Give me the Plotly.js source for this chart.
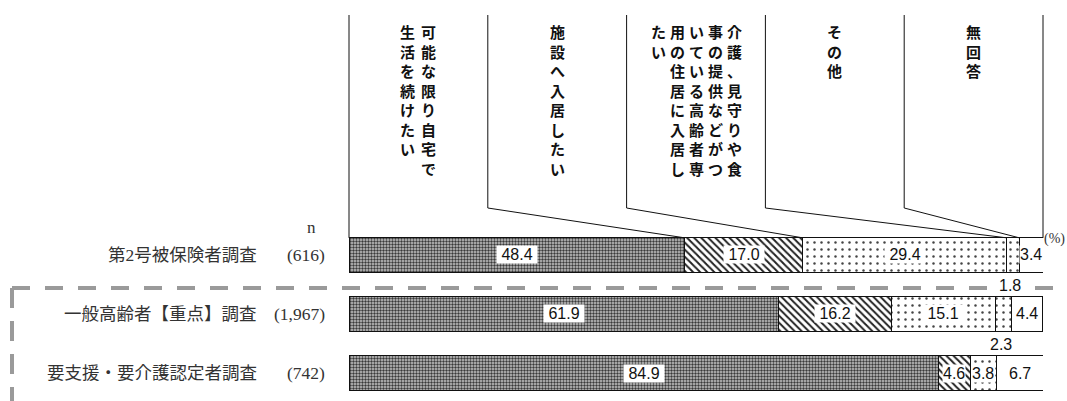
<!DOCTYPE html>
<html><head><meta charset="utf-8">
<script src="https://cdn.plot.ly/plotly-3.0.1.min.js"></script>
<style>html,body{margin:0;padding:0;background:#fff;}#chart{width:1067px;height:401px;}</style>
</head><body><div id="chart"></div>
<script>
// ---- data ----
const rowNames = ['第2号被保険者調査', '一般高齢者【重点】調査', '要支援・要介護認定者調査'];
const rowN = ['(616)', '(1,967)', '(742)'];
const seriesNames = [
  '可能な限り自宅で生活を続けたい',
  '施設へ入居したい',
  '介護、見守りや食事の提供などがついている高齢者専用の住居に入居したい',
  'その他',
  '無回答'
];
const vHome    = [48.4, 61.9, 84.9];
const vFacility= [17.0, 16.2, 4.6];
const vHousing = [29.4, 15.1, 3.8];
const vOther   = [1.8, 2.3, 0];
const vNoAns   = [3.4, 4.4, 6.7];
const seriesValues = [vHome, vFacility, vHousing, vOther, vNoAns];

// ---- geometry ----
const W = 1067, H = 401;
const M = {l: 349, r: 24, t: 225, b: 10};
const plotW = W - M.l - M.r, plotH = H - M.t - M.b;
const yRange = [2.305, -0.508];
const barWidth = 0.58;
const px2paperX = p => (p - M.l) / plotW;
const px2paperY = p => (H - M.b - p) / plotH;
const dataY2paper = d => (yRange[0] - d) / (yRange[0] - yRange[1]);

const patterns = [
  {shape: '.', fgcolor: '#3a3a3a', bgcolor: '#c8c8c8', size: 3, solidity: 0.5},
  {shape: '\\', fgcolor: '#222', bgcolor: '#fff', size: 5, solidity: 0.4},
  {shape: '.', fgcolor: '#444', bgcolor: '#fff', size: 7, solidity: 0.1},
  {shape: '.', fgcolor: '#444', bgcolor: '#fff', size: 7, solidity: 0.1},
  {shape: '', fgcolor: '#000', bgcolor: '#fff', size: 8, solidity: 0.1}
];
const baseColors = ['#8a8a8a', '#fff', '#fff', '#fff', '#fff'];

const traces = seriesValues.map((vals, i) => ({
  type: 'bar', orientation: 'h', name: seriesNames[i],
  x: vals, y: rowNames, width: barWidth,
  marker: {color: baseColors[i], line: {color: '#111', width: 1}, pattern: patterns[i]},
  hoverinfo: 'skip'
}));

const annotations = [];
const shapes = [];
const NB = '\u00a0';

// value labels
rowNames.forEach((r, ri) => {
  let cum = 0;
  seriesValues.forEach((vals, si) => {
    const v = vals[ri];
    const mid = cum + v / 2;
    cum += v;
    if (v <= 0) return;
    const small = v < 3;
    const t = v.toFixed(1);
    annotations.push({
      x: mid, y: r, xref: 'x', yref: 'y', text: v >= 10 ? NB + t + NB : t,
      showarrow: false, bgcolor: '#fff', borderpad: 0,
      yshift: small ? -31 : 0, xshift: small ? -3 : 0,
      font: {family: 'Liberation Sans, Arial, sans-serif', size: 16, color: '#111'}
    });
  });
});

// row labels
const labelFont = {family: 'Liberation Serif, Noto Sans CJK JP, serif', size: 17.5, color: '#333'};
rowNames.forEach((r, ri) => {
  annotations.push({x: px2paperX(259), y: r, xref: 'paper', yref: 'y', xanchor: 'right',
    text: r, showarrow: false, font: labelFont});
  annotations.push({x: px2paperX(327), y: r, xref: 'paper', yref: 'y', xanchor: 'right',
    text: rowN[ri], showarrow: false, font: labelFont});
});
annotations.push({x: px2paperX(305), y: px2paperY(216), xref: 'paper', yref: 'paper',
  text: 'n', showarrow: false, font: {family: 'Liberation Serif, serif', size: 17, color: '#333'}});
annotations.push({x: px2paperX(1066), y: px2paperY(230), xref: 'paper', yref: 'paper', xanchor: 'right',
  text: '(%)', showarrow: false, borderpad: 0, font: {family: 'Liberation Serif, serif', size: 14, color: '#333'}});

// header columns (vertical text)
const nCols = seriesNames.length;
const colW = 100 / nCols;
const charsPerCol = 8;
const colSpacing = 19;
seriesNames.forEach((name, k) => {
  const chars = Array.from(name);
  const cols = [];
  for (let i = 0; i < chars.length; i += charsPerCol) cols.push(chars.slice(i, i + charsPerCol));
  const centerPx = M.l + (k + 0.5) * colW / 100 * plotW;
  const sp = cols.length === 2 ? 21 : colSpacing;
  cols.forEach((c, j) => {
    const xpx = centerPx + ((cols.length - 1) / 2 - j) * sp;
    annotations.push({x: px2paperX(xpx), y: px2paperY(20), xref: 'paper', yref: 'paper',
      xanchor: 'center', yanchor: 'top', text: c.join('<br>'), showarrow: false, borderpad: 0,
      font: {family: 'Noto Sans CJK JP, sans-serif', size: 15, color: '#111', weight: 'bold'}});
  });
});

// header separator lines (paper coords so they are not clipped)
const cum0 = [];
{ let c = 0; seriesValues.forEach(v => { c += v[0]; cum0.push(c); }); }
const barTopP = dataY2paper(-barWidth / 2);
const topP = px2paperY(15), kneeP = px2paperY(208);
for (let k = 0; k <= nCols; k++) {
  const xp = k * colW / 100;
  if (k === 0 || k === nCols) {
    shapes.push({type: 'line', xref: 'paper', yref: 'paper', x0: xp, x1: xp, y0: topP, y1: barTopP,
      line: {color: '#111', width: 1}});
  } else {
    shapes.push({type: 'line', xref: 'paper', yref: 'paper', x0: xp, x1: xp, y0: topP, y1: kneeP,
      line: {color: '#111', width: 1}});
    shapes.push({type: 'line', xref: 'paper', yref: 'paper', x0: xp, x1: cum0[k - 1] / 100, y0: kneeP, y1: barTopP,
      line: {color: '#111', width: 1}});
  }
}

// dashed group separator
shapes.push({type: 'line', xref: 'paper', yref: 'paper', x0: px2paperX(12), x1: px2paperX(1067),
  y0: px2paperY(288), y1: px2paperY(288), line: {color: '#9a9a9a', width: 4, dash: '18px,15px'}});
shapes.push({type: 'line', xref: 'paper', yref: 'paper', x0: px2paperX(12), x1: px2paperX(12),
  y0: px2paperY(288), y1: px2paperY(401), line: {color: '#9a9a9a', width: 4, dash: '20px,13px'}});

const layout = {
  width: W, height: H, margin: M, barmode: 'stack', showlegend: false,
  paper_bgcolor: '#fff', plot_bgcolor: '#fff', hovermode: false,
  xaxis: {range: [0, 100], visible: false, fixedrange: true},
  yaxis: {type: 'category', categoryorder: 'array', categoryarray: rowNames, range: yRange,
          visible: false, fixedrange: true},
  annotations: annotations, shapes: shapes
};
Plotly.newPlot('chart', traces, layout, {staticPlot: true, displayModeBar: false});
</script></body></html>
